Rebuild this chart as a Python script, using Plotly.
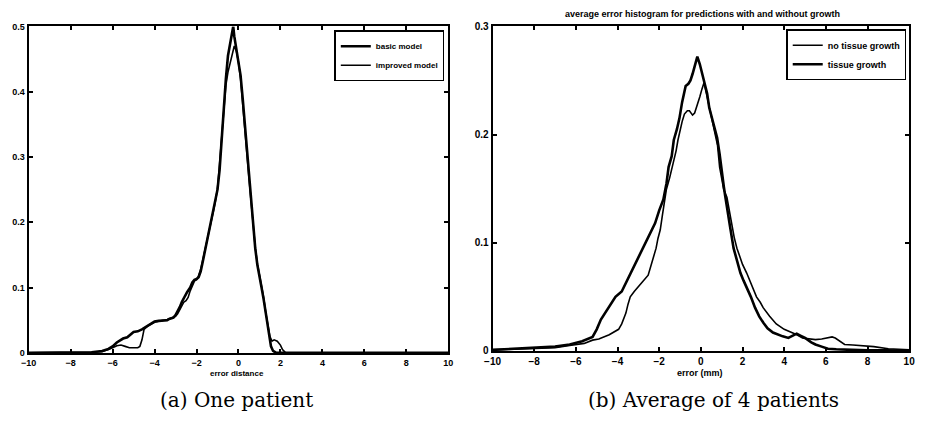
import plotly.graph_objects as go

# ---------------- data ----------------
# (a) One patient
a_basic_x = [-10, -8, -7.5, -7.0, -6.5, -6.2, -6.0, -5.8, -5.5, -5.3, -5.0, -4.8, -4.6, -4.4, -4.2, -4.0, -3.8, -3.6, -3.4, -3.3, -3.1, -3.0, -2.9, -2.8, -2.7, -2.6, -2.45, -2.3, -2.2, -2.1, -2.0, -1.9, -1.8, -1.7, -1.6, -1.5, -1.4, -1.3, -1.2, -1.1, -1.0, -0.9, -0.8, -0.7, -0.6, -0.5, -0.4, -0.3, -0.25, -0.2, -0.1, 0.0, 0.1, 0.2, 0.3, 0.4, 0.5, 0.6, 0.7, 0.8, 0.9, 1.0, 1.1, 1.2, 1.3, 1.4, 1.5, 1.55, 1.65, 1.8, 2.2, 4, 6, 8, 10]
a_basic_y = [0, 0, 0.0005, 0.001, 0.003, 0.006, 0.01, 0.016, 0.022, 0.024, 0.032, 0.033, 0.036, 0.04, 0.045, 0.048, 0.049, 0.05, 0.05, 0.052, 0.054, 0.058, 0.063, 0.07, 0.078, 0.085, 0.093, 0.1, 0.108, 0.112, 0.113, 0.116, 0.125, 0.14, 0.155, 0.17, 0.185, 0.2, 0.215, 0.23, 0.25, 0.28, 0.33, 0.385, 0.42, 0.455, 0.475, 0.49, 0.5, 0.485, 0.465, 0.45, 0.425, 0.39, 0.35, 0.31, 0.272, 0.235, 0.195, 0.16, 0.135, 0.12, 0.1, 0.082, 0.06, 0.04, 0.02, 0.01, 0.003, 0.0, 0, 0, 0, 0, 0]

a_improved_x = [-10, -8, -7.5, -7.0, -6.5, -6.2, -6.0, -5.8, -5.6, -5.4, -5.2, -5.0, -4.8, -4.7, -4.6, -4.5, -4.3, -4.0, -3.8, -3.6, -3.4, -3.2, -3.0, -2.9, -2.8, -2.7, -2.6, -2.5, -2.4, -2.3, -2.2, -2.1, -2.0, -1.9, -1.8, -1.7, -1.6, -1.5, -1.4, -1.3, -1.2, -1.1, -1.0, -0.9, -0.8, -0.7, -0.6, -0.5, -0.4, -0.3, -0.2, -0.1, 0.0, 0.1, 0.2, 0.3, 0.4, 0.5, 0.6, 0.7, 0.8, 0.9, 1.0, 1.1, 1.2, 1.3, 1.4, 1.5, 1.6, 1.7, 1.85, 2.0, 2.1, 2.25, 4, 6, 8, 10]
a_improved_y = [0, 0, 0.0005, 0.001, 0.002, 0.005, 0.008, 0.011, 0.012, 0.01, 0.008, 0.008, 0.008, 0.01, 0.02, 0.036, 0.042, 0.047, 0.049, 0.05, 0.051, 0.053, 0.056, 0.06, 0.066, 0.072, 0.078, 0.08, 0.085, 0.095, 0.104, 0.11, 0.112, 0.118, 0.128, 0.142, 0.156, 0.17, 0.184, 0.2, 0.216, 0.232, 0.252, 0.29, 0.335, 0.375, 0.41, 0.43, 0.445, 0.46, 0.47, 0.462, 0.445, 0.42, 0.385, 0.345, 0.305, 0.268, 0.232, 0.195, 0.162, 0.137, 0.12, 0.102, 0.085, 0.062, 0.042, 0.025, 0.018, 0.02, 0.018, 0.012, 0.005, 0.0, 0, 0, 0, 0]

# (b) Average of 4 patients
b_growth_x = [-10, -9, -8, -7, -6.3, -5.7, -5.2, -5.0, -4.8, -4.6, -4.4, -4.1, -3.8, -3.6, -3.4, -3.16, -2.95, -2.8, -2.6, -2.39, -2.2, -2.0, -1.8, -1.65, -1.55, -1.4, -1.3, -1.15, -1.03, -0.9, -0.8, -0.73, -0.6, -0.5, -0.4, -0.3, -0.17, -0.05, 0.05, 0.15, 0.3, 0.4, 0.5, 0.6, 0.7, 0.78, 0.9, 1.0, 1.1, 1.17, 1.3, 1.4, 1.57, 1.75, 1.9, 2.05, 2.2, 2.4, 2.6, 2.8, 3.0, 3.2, 3.46, 3.7, 3.93, 4.2, 4.4, 4.6, 4.8, 5.0, 5.3, 5.5, 5.8, 6.1, 6.5, 7, 8, 9, 10]
b_growth_y = [0.001, 0.002, 0.003, 0.004, 0.006, 0.009, 0.013, 0.02, 0.029, 0.035, 0.04, 0.05, 0.055, 0.063, 0.07, 0.08, 0.088, 0.095, 0.102, 0.11, 0.118, 0.13, 0.14, 0.155, 0.17, 0.18, 0.195, 0.205, 0.215, 0.23, 0.24, 0.245, 0.247, 0.25, 0.256, 0.262, 0.272, 0.265, 0.258, 0.25, 0.238, 0.225, 0.218, 0.21, 0.203, 0.197, 0.182, 0.165, 0.152, 0.143, 0.125, 0.115, 0.095, 0.082, 0.072, 0.065, 0.059, 0.05, 0.04, 0.032, 0.026, 0.021, 0.017, 0.015, 0.0135, 0.012, 0.014, 0.016, 0.014, 0.012, 0.008, 0.006, 0.004, 0.002, 0.0015, 0.001, 0.0005, 0.0005, 0.0]

b_nogrowth_x = [-10, -9, -8, -7, -6.3, -5.6, -5.2, -4.9, -4.4, -3.95, -3.8, -3.6, -3.5, -3.39, -3.2, -3.0, -2.8, -2.53, -2.4, -2.3, -2.15, -2.06, -1.95, -1.85, -1.75, -1.66, -1.5, -1.4, -1.3, -1.19, -1.1, -1.0, -0.9, -0.79, -0.65, -0.55, -0.4, -0.3, -0.17, -0.05, 0.05, 0.15, 0.3, 0.46, 0.6, 0.7, 0.8, 0.9, 1.0, 1.1, 1.25, 1.4, 1.5, 1.6, 1.73, 1.9, 2.0, 2.2, 2.36, 2.5, 2.67, 2.85, 2.99, 3.3, 3.62, 4.0, 4.5, 4.88, 5.2, 5.5, 5.8, 6.0, 6.3, 6.45, 6.7, 6.9, 7.3, 7.7, 8.3, 9, 10]
b_nogrowth_y = [0.001, 0.0015, 0.002, 0.003, 0.005, 0.007, 0.01, 0.011, 0.015, 0.02, 0.025, 0.035, 0.043, 0.05, 0.055, 0.06, 0.064, 0.07, 0.078, 0.085, 0.095, 0.104, 0.112, 0.125, 0.138, 0.149, 0.16, 0.168, 0.175, 0.185, 0.195, 0.205, 0.212, 0.219, 0.222, 0.222, 0.218, 0.22, 0.227, 0.235, 0.242, 0.248, 0.235, 0.22, 0.207, 0.2, 0.19, 0.17, 0.16, 0.149, 0.142, 0.125, 0.115, 0.105, 0.095, 0.086, 0.08, 0.072, 0.065, 0.058, 0.05, 0.045, 0.04, 0.032, 0.025, 0.02, 0.016, 0.012, 0.011, 0.0105, 0.011, 0.012, 0.013, 0.012, 0.009, 0.006, 0.0055, 0.005, 0.004, 0.002, 0.001]

x_ticks = [-10, -8, -6, -4, -2, 0, 2, 4, 6, 8, 10]
a_y_ticks = [0, 0.1, 0.2, 0.3, 0.4, 0.5]
b_y_ticks = [0, 0.1, 0.2, 0.3]

a_names = ["basic model", "improved model"]
b_names = ["no tissue growth", "tissue growth"]
b_title = "average error histogram for predictions with and without growth"
a_xlabel = "error distance"
b_xlabel = "error (mm)"
captions = ["(a) One patient", "(b) Average of 4 patients"]

# ---------------- figure ----------------
W, H = 927, 424
fig = go.Figure()

fig.add_trace(go.Scatter(x=a_basic_x, y=a_basic_y, mode="lines", name=a_names[0],
                         line=dict(color="black", width=2.6), xaxis="x", yaxis="y", legend="legend"))
fig.add_trace(go.Scatter(x=a_improved_x, y=a_improved_y, mode="lines", name=a_names[1],
                         line=dict(color="black", width=1.6), xaxis="x", yaxis="y", legend="legend"))
fig.add_trace(go.Scatter(x=b_nogrowth_x, y=b_nogrowth_y, mode="lines", name=b_names[0],
                         line=dict(color="black", width=1.6), xaxis="x2", yaxis="y2", legend="legend2"))
fig.add_trace(go.Scatter(x=b_growth_x, y=b_growth_y, mode="lines", name=b_names[1],
                         line=dict(color="black", width=2.6), xaxis="x2", yaxis="y2", legend="legend2"))

tickfont_a = dict(family="Liberation Sans, Arial", size=9, color="black", weight="bold")
tickfont_b = dict(family="Liberation Sans, Arial", size=10, color="black", weight="bold")


def ax_common(tf):
    return dict(showgrid=False, zeroline=False, showline=True, linecolor="black", linewidth=2,
                mirror="ticks", ticks="inside", ticklen=4, tickwidth=1.5, tickcolor="black",
                tickfont=tf)


y_bot = 1 - 357 / H
y_top = 1 - 21 / H

fig.update_layout(
    width=W, height=H,
    margin=dict(l=0, r=0, t=0, b=0),
    paper_bgcolor="white", plot_bgcolor="white",
    showlegend=True,
    xaxis=dict(domain=[21 / W, 447 / W], range=[-10, 10], tickvals=x_ticks, anchor="y", **ax_common(tickfont_a)),
    yaxis=dict(domain=[y_bot, y_top], range=[0, 0.5], tickvals=a_y_ticks, anchor="x", **ax_common(tickfont_a)),
    xaxis2=dict(domain=[492 / W, 915 / W], range=[-10, 10], tickvals=x_ticks, anchor="y2", **ax_common(tickfont_b)),
    yaxis2=dict(domain=[1 - 355 / H, y_top], range=[0, 0.3], tickvals=b_y_ticks, anchor="x2", **ax_common(tickfont_b)),
    legend=dict(x=443 / W, y=1 - 25 / H, xanchor="right", yanchor="top",
                bgcolor="white", bordercolor="black", borderwidth=1.5,
                font=dict(family="Liberation Sans, Arial", size=8, color="black", weight="bold"),
                tracegroupgap=0, itemwidth=30),
    legend2=dict(x=912 / W, y=1 - 24 / H, xanchor="right", yanchor="top",
                 bgcolor="white", bordercolor="black", borderwidth=1.5,
                 font=dict(family="Liberation Sans, Arial", size=9, color="black", weight="bold"),
                 tracegroupgap=0, itemwidth=30),
    annotations=[
        dict(text=b_title, x=705 / W, y=1 - 8 / H, xref="paper", yref="paper", showarrow=False,
             font=dict(family="Liberation Sans, Arial", size=9, color="black", weight="bold"),
             xanchor="center", yanchor="middle"),
        dict(text=a_xlabel, x=233 / W, y=1 - 378 / H, xref="paper", yref="paper", showarrow=False,
             font=dict(family="Liberation Sans, Arial", size=8, color="black", weight="bold"),
             xanchor="center", yanchor="middle"),
        dict(text=b_xlabel, x=703 / W, y=1 - 378 / H, xref="paper", yref="paper", showarrow=False,
             font=dict(family="Liberation Sans, Arial", size=9, color="black", weight="bold"),
             xanchor="center", yanchor="middle"),
        dict(text=captions[0], x=232 / W, y=1 - 405 / H, xref="paper", yref="paper", showarrow=False,
             font=dict(family="DejaVu Serif", size=20, color="black"),
             xanchor="center", yanchor="middle"),
        dict(text=captions[1], x=716 / W, y=1 - 405 / H, xref="paper", yref="paper", showarrow=False,
             font=dict(family="DejaVu Serif", size=20, color="black"),
             xanchor="center", yanchor="middle"),
    ],
)

fig.write_html("out.html")
